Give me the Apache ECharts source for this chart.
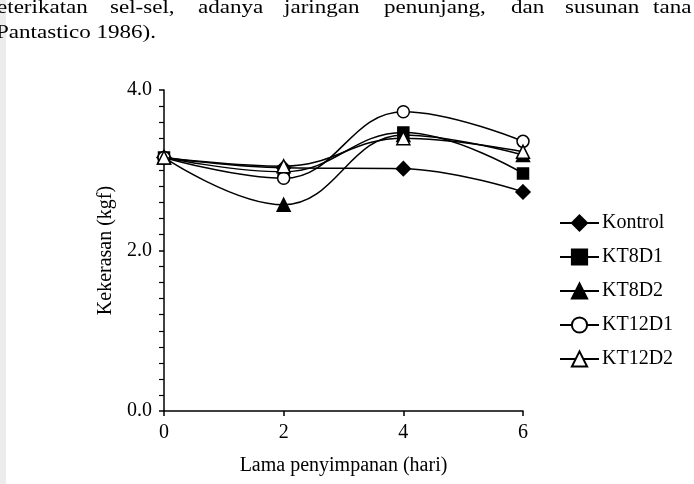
<!DOCTYPE html>
<html>
<head>
<meta charset="utf-8">
<script src="https://cdn.jsdelivr.net/npm/echarts@6/dist/echarts.min.js"></script>
<style>html,body{margin:0;padding:0;background:#fff}#c{width:694px;height:484px}</style>
</head>
<body>
<div id="c"></div>
<script>
var days = [0, 2, 4, 6];
var seriesNames = ['Kontrol', 'KT8D1', 'KT8D2', 'KT12D1', 'KT12D2'];
var kontrol = [3.16, 3.03, 3.02, 2.73];
var kt8d1 = [3.16, 2.98, 3.47, 2.96];
var kt8d2 = [3.16, 2.57, 3.44, 3.19];
var kt12d1 = [3.16, 2.90, 3.73, 3.36];
var kt12d2 = [3.16, 3.05, 3.40, 3.23];
var xTicks = [0, 2, 4, 6];
var yTicks = [0, 2, 4];
var pageLine1 = ['eterikatan', 'sel-sel,', 'adanya', 'jaringan', 'penunjang,', 'dan', 'susunan', 'tana'];
var pageLine2 = ['Pantastico 1986).'];

var serif = '"Liberation Serif", "Times New Roman", serif';
function pts(v) { return days.map(function (d, i) { return [d, v[i]]; }); }

var styles = [
  { symbol: 'diamond', size: 14, fill: '#000' },
  { symbol: 'rect', size: 11, fill: '#000' },
  { symbol: 'triangle', size: 13, fill: '#000' },
  { symbol: 'circle', size: 12, fill: '#fff' },
  { symbol: 'triangle', size: 13, fill: '#fff' }
];
var values = [kontrol, kt8d1, kt8d2, kt12d1, kt12d2];

var series = values.map(function (v, i) {
  return {
    name: seriesNames[i],
    type: 'line',
    data: pts(v),
    smooth: 0.42,
    symbol: styles[i].symbol,
    symbolSize: styles[i].size,
    showAllSymbol: true,
    lineStyle: { color: '#000', width: 1.5 },
    itemStyle: { color: styles[i].fill, borderColor: '#000', borderWidth: 1.5, opacity: 1 },
    emphasis: { disabled: true },
    z: 2 + i
  };
});

var x1 = [-3, 110, 198, 284, 384, 511, 565, 653];
var graphics = [{ type: 'rect', shape: { x: 0, y: 0, width: 6, height: 484 }, style: { fill: '#ececec' }, z: 0 }];
pageLine1.forEach(function (w, i) {
  graphics.push({ type: 'text', x: x1[i], y: 8.5, scaleX: 1.28, style: { text: w, font: '18px ' + serif, fill: '#000', textVerticalAlign: 'middle' }, z: 10 });
});
graphics.push({ type: 'text', x: -4, y: 33.5, scaleX: 1.28, style: { text: pageLine2[0], font: '18px ' + serif, fill: '#000', textVerticalAlign: 'middle' }, z: 10 });

var chart = echarts.init(document.getElementById('c'));
chart.setOption({
  animation: false,
  backgroundColor: '#fff',
  graphic: graphics,
  grid: { left: 164, right: 171, top: 90, bottom: 73, containLabel: false },
  legend: {
    orient: 'vertical', left: 559, top: 213, padding: 0,
    itemWidth: 39, itemHeight: 19, itemGap: 14,
    data: seriesNames,
    textStyle: { fontFamily: serif, fontSize: 20, lineHeight: 20, color: '#000', padding: [0, 0, 0, -2] },
    selectedMode: false
  },
  xAxis: {
    type: 'value', min: 0, max: 6, interval: 2,
    name: 'Lama penyimpanan (hari)', nameLocation: 'middle', nameGap: 45,
    nameTextStyle: { fontFamily: serif, fontSize: 20, color: '#000' },
    axisLine: { lineStyle: { color: '#000', width: 1.5 } },
    axisTick: { show: true, length: 5, lineStyle: { color: '#000', width: 1.5 } },
    axisLabel: { fontFamily: serif, fontSize: 20, color: '#000', margin: 12,
      formatter: function (v) { return xTicks.indexOf(v) >= 0 ? String(v) : ''; } },
    splitLine: { show: false }
  },
  yAxis: {
    type: 'value', min: 0, max: 4, interval: 2,
    name: 'Kekerasan (kgf)', nameLocation: 'middle', nameGap: 45, nameRotate: 90,
    nameTextStyle: { fontFamily: serif, fontSize: 20, color: '#000' },
    axisLine: { show: true, lineStyle: { color: '#000', width: 1.5 } },
    axisTick: { show: true, length: 5, lineStyle: { color: '#000', width: 1.5 } },
    minorTick: { show: true, splitNumber: 10, length: 5, lineStyle: { color: '#000', width: 1.2 } },
    axisLabel: { fontFamily: serif, fontSize: 20, color: '#000', margin: 12,
      formatter: function (v) { return yTicks.indexOf(v) >= 0 ? v.toFixed(1) : ''; } },
    splitLine: { show: false }
  },
  series: series
});
</script>
</body>
</html>
